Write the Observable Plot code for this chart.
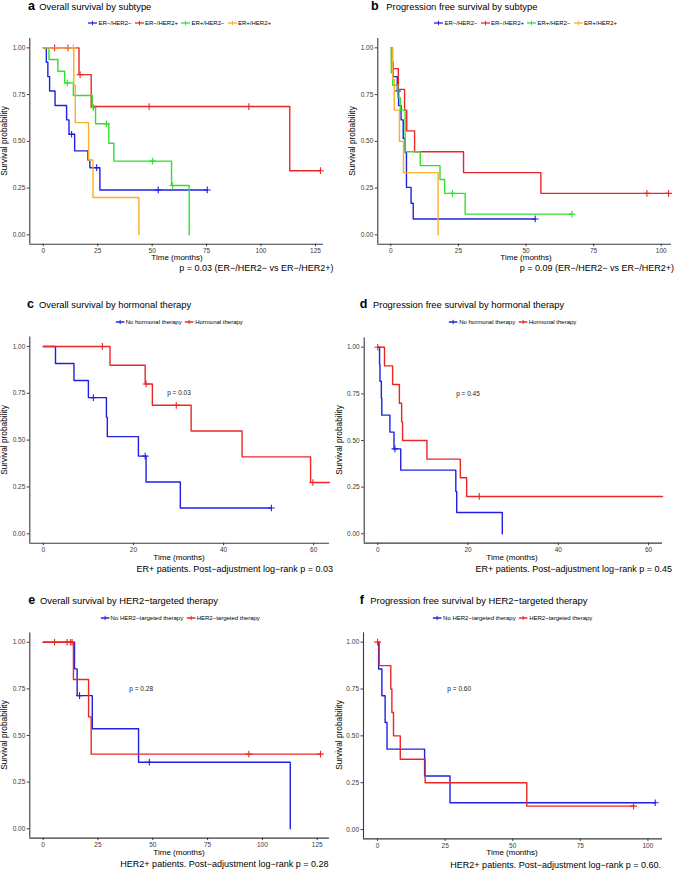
<!DOCTYPE html>
<html><head><meta charset="utf-8">
<script src="https://cdn.jsdelivr.net/npm/d3@7"></script>
<script src="https://cdn.jsdelivr.net/npm/@observablehq/plot@0.6"></script>
<style>
body{margin:0;background:#fff;}
#root{position:relative;width:677px;height:871px;overflow:hidden;background:#fff;font-family:"Liberation Sans",Arial,Helvetica,sans-serif;color:#000;}
.t{position:absolute;white-space:nowrap;line-height:1;}
.pw{position:absolute;}
.pw svg{display:block;max-width:none;}
.leg{position:absolute;display:flex;align-items:center;white-space:nowrap;line-height:1;font-size:6px;transform:translate(-50%,-50%);}
.leg svg{display:block;margin-right:1.5px;}
.leg span{margin-right:3px;}
</style></head><body><div id="root"></div>
<script>
// ---------------- DATA ----------------
const yTicks = [0, 0.25, 0.5, 0.75, 1];
const subtypeNames = ["ER−/HER2−", "ER−/HER2+", "ER+/HER2−", "ER+/HER2+"];
const hormNames = ["No hormonal therapy", "Hormonal therapy"];
const her2Names = ["No HER2−targeted therapy", "HER2−targeted therapy"];

// Panel a: Overall survival by subtype
const aBlueT = [0, 1.4, 2.1, 2.9, 5.4, 10.7, 11.8, 14.4, 20.5, 21.4, 26.0, 75.3];
const aBlueS = [1, 0.923, 0.846, 0.769, 0.692, 0.615, 0.538, 0.449, 0.40, 0.359, 0.24, 0.24];
const aBlueCT = [13.0, 24.5, 52.8, 75.3];
const aBlueCS = [0.538, 0.359, 0.24, 0.24];
const aRedT = [0, 16.4, 22.0, 113.2, 127.3];
const aRedS = [1, 0.857, 0.686, 0.343, 0.343];
const aRedCT = [5.2, 11.3, 16.9, 48.6, 94.4, 127.3];
const aRedCS = [1, 1, 0.857, 0.686, 0.686, 0.343];
const aGreenT = [0, 2.6, 6.7, 9.8, 13.8, 22.5, 24.0, 30.1, 32.4, 58.9, 67.0];
const aGreenS = [1, 0.9375, 0.875, 0.8125, 0.745, 0.68, 0.594, 0.49, 0.394, 0.264, 0];
const aGreenCT = [11.0, 23.0, 29.0, 50.2, 59.4];
const aGreenCS = [0.8125, 0.68, 0.594, 0.394, 0.264];
const aOrangeT = [0, 14.0, 14.7, 20.8, 22.8, 43.9];
const aOrangeS = [1, 0.8, 0.6, 0.4, 0.2, 0];
const aOrangeCT = [13.8];
const aOrangeCS = [1];

// Panel b: Progression free survival by subtype
const bBlueT = [0, 0.3, 0.8, 2.4, 2.9, 3.8, 4.6, 5.3, 5.8, 7.5, 8.3, 53.4];
const bBlueS = [1, 0.923, 0.846, 0.769, 0.692, 0.615, 0.515, 0.44, 0.254, 0.169, 0.085, 0.085];
const bBlueCT = [2.6, 53.4];
const bBlueCS = [0.769, 0.085];
const bRedT = [0, 0.6, 2.8, 5.1, 5.9, 8.8, 26.9, 55.5, 102.7];
const bRedS = [1, 0.889, 0.778, 0.667, 0.556, 0.444, 0.333, 0.222, 0.222];
const bRedCT = [94.7, 102.7];
const bRedCS = [0.222, 0.222];
const bGreenT = [0, 0.2, 0.7, 2.6, 3.5, 5.3, 10.9, 18.2, 19.9, 27.5, 67.0];
const bGreenS = [1, 0.867, 0.8, 0.733, 0.667, 0.444, 0.37, 0.296, 0.222, 0.111, 0.111];
const bGreenCT = [22.8, 67.0];
const bGreenCS = [0.222, 0.111];
const bOrangeT = [0, 0.7, 1.3, 3.2, 4.7, 17.5];
const bOrangeS = [1, 0.833, 0.667, 0.5, 0.333, 0];
const bOrangeCT = [];
const bOrangeCS = [];

// Panel c: Overall survival by hormonal therapy
const cNoT = [0, 2.7, 6.8, 10.0, 14.0, 14.2, 21.1, 22.8, 30.4, 50.6];
const cNoS = [1, 0.909, 0.818, 0.727, 0.623, 0.519, 0.415, 0.277, 0.138, 0.138];
const cNoCT = [11.1, 22.6, 50.6];
const cNoCS = [0.727, 0.415, 0.138];
const cYesT = [0, 14.8, 22.6, 24.2, 32.8, 44.1, 59.3, 63.5];
const cYesS = [1, 0.9, 0.8, 0.686, 0.549, 0.411, 0.274, 0.274];
const cYesCT = [13.1, 22.8, 29.5, 59.8];
const cYesCS = [1, 0.8, 0.686, 0.274];
const cP = {t: 30.1, s: 0.75, label: "p = 0.03"};

// Panel d: Progression free survival by hormonal therapy
const dNoT = [0, 0.4, 0.5, 0.8, 0.9, 2.7, 3.6, 5.1, 17.3, 17.5, 27.6];
const dNoS = [1, 0.909, 0.818, 0.727, 0.636, 0.545, 0.455, 0.341, 0.227, 0.114, 0];
const dNoCT = [3.8];
const dNoCS = [0.455];
const dYesT = [0, 1.5, 3.3, 4.8, 5.3, 5.5, 10.9, 18.3, 19.7, 63.1];
const dYesS = [1, 0.9, 0.8, 0.7, 0.6, 0.5, 0.4, 0.3, 0.2, 0.2];
const dYesCT = [0, 22.5];
const dYesCS = [1, 0.2];
const dP = {t: 20.0, s: 0.75, label: "p = 0.45"};

// Panel e: Overall survival by HER2-targeted therapy
const eNoT = [0, 14.3, 15.5, 22.4, 43.5, 112.7];
const eNoS = [1, 0.857, 0.714, 0.536, 0.357, 0];
const eNoCT = [16.6, 48.4];
const eNoCS = [0.714, 0.357];
const eYesT = [0, 13.8, 20.7, 21.9, 126.5];
const eYesS = [1, 0.8, 0.6, 0.4, 0.4];
const eYesCT = [5.2, 10.9, 12.5, 13.2, 93.8, 126.5];
const eYesCS = [1, 1, 1, 1, 0.4, 0.4];
const eP = {t: 44.7, s: 0.75, label: "p = 0.28"};

// Panel f: Progression free survival by HER2-targeted therapy
const fNoT = [0, 0.4, 1.6, 2.8, 3.5, 17.4, 26.8, 102.7];
const fNoS = [1, 0.857, 0.714, 0.571, 0.429, 0.286, 0.143, 0.143];
const fNoCT = [102.7];
const fNoCS = [0.143];
const fYesT = [0, 0.6, 4.9, 5.3, 5.9, 8.4, 17.6, 55.2, 94.7];
const fYesS = [1, 0.875, 0.75, 0.625, 0.5, 0.375, 0.25, 0.125, 0.125];
const fYesCT = [0, 94.7];
const fYesCS = [1, 0.125];
const fP = {t: 30.2, s: 0.75, label: "p = 0.60"};

const titles = ["Overall survival by subtype", "Progression free survival by subtype",
  "Overall survival by hormonal therapy", "Progression free survival by hormonal therapy",
  "Overall survival by HER2−targeted therapy", "Progression free survival by HER2−targeted therapy"];
const letters = ["a", "b", "c", "d", "e", "f"];
const captions = ["p = 0.03 (ER−/HER2− vs ER−/HER2+)", "p = 0.09 (ER−/HER2− vs ER−/HER2+)",
  "ER+ patients. Post−adjustment log−rank p = 0.03", "ER+ patients. Post−adjustment log−rank p = 0.45",
  "HER2+ patients. Post−adjustment log−rank p = 0.28", "HER2+ patients. Post−adjustment log−rank p = 0.60."];

// ---------------- STYLE / LAYOUT ----------------
const BLUE = "#2020e2", RED = "#ec2626", GREEN = "#30e030", ORANGE = "#f6b02c";
const FONT = "Liberation Sans, Arial, Helvetica, sans-serif";
const yDomain = [-0.05, 1.05];

const panels = [
  {left: 0, top: 30, width: 338, height: 240, mt: 8, mb: 26.3, ml: 29.3, mr: 15,
   xDomain: [-6.2, 128.7], xTicks: [0, 25, 50, 75, 100, 125],
   series: [[aBlueT, aBlueS, aBlueCT, aBlueCS, BLUE], [aRedT, aRedS, aRedCT, aRedCS, RED],
            [aGreenT, aGreenS, aGreenCT, aGreenCS, GREEN], [aOrangeT, aOrangeS, aOrangeCT, aOrangeCS, ORANGE]],
   names: subtypeNames, colors: [BLUE, RED, GREEN, ORANGE],
   letterX: 28, titleX: 39.3, titleY: 7, legX: 181, legY: 23.3, yTitleX: 4, yTitleY: 141,
   xTitleX: 177, xTitleY: 258.3, capX: 333.5, capY: 268},
  {left: 338, top: 30, width: 339, height: 240, mt: 8, mb: 26.3, ml: 39.3, mr: 6,
   xDomain: [-4.8, 103.8], xTicks: [0, 25, 50, 75, 100],
   series: [[bBlueT, bBlueS, bBlueCT, bBlueCS, BLUE], [bRedT, bRedS, bRedCT, bRedCS, RED],
            [bGreenT, bGreenS, bGreenCT, bGreenCS, GREEN], [bOrangeT, bOrangeS, bOrangeCT, bOrangeCS, ORANGE]],
   names: subtypeNames, colors: [BLUE, RED, GREEN, ORANGE],
   letterX: 371, titleX: 386.3, titleY: 7, legX: 527, legY: 23.3, yTitleX: 351.5, yTitleY: 141,
   xTitleX: 526, xTitleY: 258.3, capX: 674, capY: 268},
  {left: 0, top: 330, width: 338, height: 240, mt: 6.6, mb: 27.3, ml: 29.3, mr: 9,
   xDomain: [-3.0, 63.5], xTicks: [0, 20, 40, 60],
   series: [[cNoT, cNoS, cNoCT, cNoCS, BLUE], [cYesT, cYesS, cYesCT, cYesCS, RED]], pLabel: cP,
   names: hormNames, colors: [BLUE, RED],
   letterX: 27, titleX: 39, titleY: 305, legX: 180.5, legY: 322.3, yTitleX: 4, yTitleY: 440,
   xTitleX: 179, xTitleY: 558.3, capX: 333, capY: 568.5},
  {left: 338, top: 330, width: 339, height: 240, mt: 7.4, mb: 27.4, ml: 25.7, mr: 15,
   xDomain: [-3.0, 63.1], xTicks: [0, 20, 40, 60],
   series: [[dNoT, dNoS, dNoCT, dNoCS, BLUE], [dYesT, dYesS, dYesCT, dYesCS, RED]], pLabel: dP,
   names: hormNames, colors: [BLUE, RED],
   letterX: 359.7, titleX: 373, titleY: 305, legX: 514, legY: 322.3, yTitleX: 338.5, yTitleY: 440,
   xTitleX: 512, xTitleY: 558.3, capX: 672, capY: 568.5},
  {left: 0, top: 626, width: 338, height: 245, mt: 6.4, mb: 33.4, ml: 29.3, mr: 9,
   xDomain: [-6.1, 130.6], xTicks: [0, 25, 50, 75, 100, 125],
   series: [[eNoT, eNoS, eNoCT, eNoCS, BLUE], [eYesT, eYesS, eYesCT, eYesCS, RED]], pLabel: eP,
   names: her2Names, colors: [BLUE, RED],
   letterX: 28.3, titleX: 40, titleY: 601, legX: 181.5, legY: 618.3, yTitleX: 4, yTitleY: 735,
   xTitleX: 179, xTitleY: 853.3, capX: 328.5, capY: 864.3},
  {left: 338, top: 626, width: 339, height: 245, mt: 6.3, mb: 32.6, ml: 25, mr: 15,
   xDomain: [-5.2, 105.4], xTicks: [0, 25, 50, 75, 100],
   series: [[fNoT, fNoS, fNoCT, fNoCS, BLUE], [fYesT, fYesS, fYesCT, fYesCS, RED]], pLabel: fP,
   names: her2Names, colors: [BLUE, RED],
   letterX: 359.7, titleX: 370.3, titleY: 601, legX: 514, legY: 618.3, yTitleX: 338.5, yTitleY: 735,
   xTitleX: 512, xTitleY: 853.3, capX: 661, capY: 865}
];

const root = document.getElementById("root");

function txt(x, y, str, size, anchor, extra) {
  const d = document.createElement("div");
  d.className = "t";
  d.textContent = str;
  d.style.left = x + "px";
  d.style.top = y + "px";
  d.style.fontSize = size + "px";
  if (extra && extra.lh) d.style.lineHeight = extra.lh;
  const tx = anchor === "middle" ? "-50%" : anchor === "end" ? "-100%" : "0";
  d.style.transform = `translate(${tx},-50%)` + (extra && extra.rotate ? " rotate(-90deg)" : "");
  if (extra && extra.weight) d.style.fontWeight = extra.weight;
  if (extra && extra.color) d.style.color = extra.color;
  root.appendChild(d);
  return d;
}

function rows(T, S) { return T.map((t, i) => ({t, s: S[i]})); }

function legend(p) {
  const L = document.createElement("div");
  L.className = "leg";
  L.style.left = p.legX + "px";
  L.style.top = p.legY + "px";
  p.names.forEach((n, i) => {
    const c = p.colors[i];
    L.insertAdjacentHTML("beforeend",
      `<svg width="9" height="6" viewBox="0 0 9 6"><line x1="0" x2="9" y1="3" y2="3" stroke="${c}" stroke-width="1.3"/>` +
      `<line x1="4.5" x2="4.5" y1="0.8" y2="5.2" stroke="${c}" stroke-width="1"/></svg><span>${n}</span>`);
  });
  root.appendChild(L);
}

panels.forEach((p, k) => {
  const marks = [
    Plot.axisY({ticks: yTicks, tickFormat: d3.format(".2f"), tickSize: 2.5, tickPadding: 2, fontSize: 6.5, label: null, color: "#3a3a3a"}),
    Plot.axisX({ticks: p.xTicks, tickSize: 2.5, tickPadding: 1.5, fontSize: 6.5, label: null, color: "#3a3a3a"}),
    Plot.ruleX([p.xDomain[0]], {stroke: "#3a3a3a", strokeWidth: 1.1}),
    Plot.ruleY([yDomain[0]], {stroke: "#3a3a3a", strokeWidth: 1.1})
  ];
  p.series.forEach(([T, S, CT, CS, col]) => {
    marks.push(Plot.line(rows(T, S), {x: "t", y: "s", curve: "step-after", stroke: col, strokeWidth: 1.4}));
    marks.push(Plot.dot(rows(CT, CS), {x: "t", y: "s", symbol: "plus", r: 2.3, stroke: col, strokeWidth: 1.1}));
  });
  if (p.pLabel) marks.push(Plot.text([p.pLabel], {x: "t", y: "s", text: "label", fontSize: 6.5, fill: "#222"}));
  const svg = Plot.plot({
    width: p.width, height: p.height,
    marginTop: p.mt, marginBottom: p.mb, marginLeft: p.ml, marginRight: p.mr,
    x: {domain: p.xDomain, label: null},
    y: {domain: yDomain, label: null},
    style: {fontFamily: FONT, background: "transparent", overflow: "visible"},
    marks
  });
  const w = document.createElement("div");
  w.className = "pw";
  w.style.left = p.left + "px";
  w.style.top = p.top + "px";
  w.style.width = p.width + "px";
  w.appendChild(svg);
  root.appendChild(w);

  txt(p.letterX, p.titleY - 0.5, letters[k], 12.5, "start", {weight: "bold", lh: "0.95"});
  txt(p.titleX, p.titleY, titles[k], 9.4, "start");
  legend(p);
  txt(p.yTitleX, p.yTitleY, "Survival probability", 8.3, "middle", {rotate: true});
  txt(p.xTitleX, p.xTitleY, "Time (months)", 8, "middle");
  txt(p.capX, p.capY, captions[k], 9, "end");
});
</script></body></html>
